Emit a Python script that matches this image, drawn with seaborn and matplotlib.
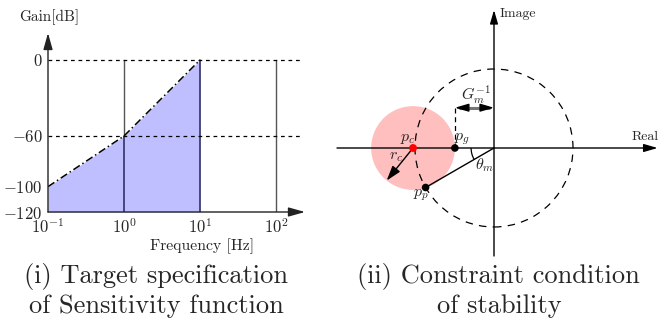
import numpy as np
import matplotlib
matplotlib.use("Agg")
import matplotlib.pyplot as plt
from matplotlib.patches import Circle, Arc
import seaborn as sns

# ---- data: target sensitivity specification ----
freq = [0.1, 1.0, 10.0]          # Hz
gain = [-100, -60, 0]            # dB
grid_freqs = [1.0, 10.0, 100.0]  # vertical reference lines
ref_gains = [0, -60]             # dashed horizontal reference lines
ytick_vals = [0, -60, -100, -120]
xtick_vals = [0.1, 1.0, 10.0, 100.0]
xtick_labels = [r"$10^{-1}$", r"$10^{0}$", r"$10^{1}$", r"$10^{2}$"]

# ---- data: stability constraint in the complex plane ----
gm_inv = 0.495       # distance |p_g| from the origin
r_c = 0.53           # radius of the forbidden circle
theta_m_deg = 30.0   # phase margin angle
rc_dir_deg = 231.0   # direction of the radius arrow

sns.set_theme(style="white")
plt.rcParams["font.family"] = ["cmr10", "DejaVu Serif"]
plt.rcParams["mathtext.fontset"] = "cm"
plt.rcParams["axes.unicode_minus"] = False

W, H = 658, 322
fig = plt.figure(figsize=(W / 100, H / 100), dpi=100)


def frac_box(x0, y0, x1, y1):
    """Pixel box (top-left origin) to figure fraction rect."""
    return [x0 / W, 1 - y1 / H, (x1 - x0) / W, (y1 - y0) / H]


def arrow_props(scale=20, hl=0.5, hw=0.14, lw=1.0, color="black"):
    return dict(arrowstyle=f"-|>,head_length={hl},head_width={hw}",
                mutation_scale=scale, color=color, lw=lw,
                shrinkA=0, shrinkB=0)


# ================= left panel =================
ax1 = fig.add_axes(frac_box(48, 33, 305, 212))
ax1.set_xscale("log")
ax1.set_xlim(0.1, 10 ** ((305 - 48) / 76 - 1))
ax1.set_ylim(-120, -120 + (212 - 33) / 1.267)
for s in ax1.spines.values():
    s.set_visible(False)
ax1.set_facecolor("none")

ax1.fill_between(freq, gain, -120, color="#bfbfff", lw=0, zorder=1)

# vertical reference lines: grey in the open area, dark blue inside the band
log_f = np.log10(freq)
for f in grid_freqs:
    lf = np.log10(f)
    if lf <= log_f[-1]:
        g_edge = float(np.interp(lf, log_f, gain))
        ax1.plot([f, f], [-120, g_edge], color="#26265c", lw=1.1, zorder=2)
        if g_edge < 0:
            ax1.plot([f, f], [g_edge, 0], color="#555555", lw=1.0, zorder=2)
    else:
        ax1.plot([f, f], [-120, 0], color="#555555", lw=1.0, zorder=2)

sns.lineplot(x=freq, y=gain, ax=ax1, color="black", lw=1.1,
             linestyle=(0, (5, 2, 1, 2)), zorder=3)
x_end_dash = 10 ** ((303 - 48) / 76 - 1)
for g in ref_gains:
    ax1.plot([0.1, x_end_dash], [g, g], color="black", lw=0.9,
             linestyle=(0, (3, 3)), zorder=3)

# axes with arrow heads
ax1.annotate("", xy=(ax1.get_xlim()[1], -120), xytext=(0.1, -120),
             arrowprops=arrow_props(lw=1.0, color="#222222"),
             annotation_clip=False, zorder=4)
ax1.annotate("", xy=(0.1, ax1.get_ylim()[1]), xytext=(0.1, -120),
             arrowprops=arrow_props(lw=1.0, color="#222222"),
             annotation_clip=False, zorder=4)

ax1.set_xticks(xtick_vals)
ax1.set_xticklabels(xtick_labels, fontsize=12)
ax1.xaxis.set_minor_locator(matplotlib.ticker.NullLocator())
ax1.set_yticks(ytick_vals)
ax1.set_yticklabels([rf"${v}$" if v >= 0 else rf"$-{abs(v)}$"
                     for v in ytick_vals], fontsize=12)
ax1.tick_params(axis="both", length=0, pad=4)
ax1.set_xlabel("")
ax1.set_ylabel("")
fig.text(202 / W, 1 - 250 / H, "Frequency [Hz]", fontsize=11.3,
         ha="center", va="baseline")
fig.text(19 / W, 1 - 21 / H, "Gain[dB]", fontsize=11, ha="left",
         va="baseline")

# ================= right panel =================
scale = 79.0
ox, oy = 494, 148
ax2 = fig.add_axes(frac_box(330, 0, 658, 262))
ax2.set_xlim((330 - ox) / scale, (658 - ox) / scale)
ax2.set_ylim((oy - 262) / scale, oy / scale)
ax2.axis("off")

p_g = np.array([-gm_inv, 0.0])
p_c = np.array([-gm_inv - r_c, 0.0])
th = np.deg2rad(180 + theta_m_deg)
p_p = np.array([np.cos(th), np.sin(th)])

ax2.add_patch(Circle(tuple(p_c), r_c, color="#ffbfbf", lw=0, zorder=1))
ax2.add_patch(Circle((0, 0), 1.0, fill=False, ec="black", lw=0.9,
                     linestyle=(0, (6, 5)), zorder=2))

small_head = arrow_props(scale=15, hl=0.55, hw=0.16, lw=1.0)

# real / imaginary axes
ax2.annotate("", xy=((658 - ox) / scale - 0.005, 0),
             xytext=((337 - ox) / scale, 0),
             arrowprops=small_head, annotation_clip=False, zorder=3)
ax2.annotate("", xy=(0, (oy - 10) / scale), xytext=(0, (oy - 256) / scale),
             arrowprops=small_head, annotation_clip=False, zorder=3)

# gain margin marker
y_gm = 0.51
ax2.plot([p_g[0], p_g[0]], [0, y_gm], color="black", lw=0.9,
         linestyle=(0, (4, 3)), zorder=3)
ax2.plot([p_g[0] + 0.06, -0.06], [y_gm, y_gm], color="#777777", lw=2.2,
         zorder=3)
ax2.annotate("", xy=(p_g[0], y_gm), xytext=(p_g[0] + 0.1, y_gm),
             arrowprops=small_head, annotation_clip=False)
ax2.annotate("", xy=(0, y_gm), xytext=(-0.1, y_gm),
             arrowprops=small_head, annotation_clip=False)

# phase margin line and angle
ax2.plot([0, p_p[0]], [0, p_p[1]], color="black", lw=1.0, zorder=3)
ax2.add_patch(Arc((0, 0), 0.58, 0.58, theta1=180, theta2=180 + theta_m_deg,
                  color="black", lw=0.9, zorder=3))

# radius arrow of the forbidden circle
rd = np.deg2rad(rc_dir_deg)
ax2.annotate("", xy=(p_c[0] + r_c * np.cos(rd), r_c * np.sin(rd)),
             xytext=tuple(p_c), arrowprops=arrow_props(scale=18, hw=0.16),
             zorder=4)

pts_x = [p_g[0], p_p[0]]
pts_y = [p_g[1], p_p[1]]
sns.scatterplot(x=pts_x, y=pts_y, ax=ax2, color="black", s=30,
                edgecolor="none", zorder=5)
sns.scatterplot(x=[p_c[0]], y=[p_c[1]], ax=ax2, color="red", s=32,
                edgecolor="none", zorder=5)

lab = dict(fontsize=11.5, ha="center", va="center", zorder=6)
ax2.text(-1.09, 0.12, r"$p_c$", **lab)
ax2.text(-0.40, 0.11, r"$p_g$", **lab)
ax2.text(-0.92, -0.60, r"$p_p$", **lab)
ax2.text(-1.24, -0.12, r"$r_c$", **lab)
ax2.text(-0.12, -0.22, r"$\theta_m$", **lab)
ax2.text(-0.23, 0.68, r"$G_m^{-1}$", **lab)
ax2.text(0.07, (oy - 14) / scale, "Image", fontsize=10, ha="left",
         va="center")
ax2.text(1.91, 0.14, "Real", fontsize=10, ha="center", va="center")

# ================= captions =================
cap = dict(fontsize=19, ha="center", va="baseline")
fig.text(156 / W, 1 - 283 / H, "(i) Target specification", **cap)
fig.text(156 / W, 1 - 313 / H, "of Sensitivity function", **cap)
fig.text(498 / W, 1 - 283 / H, "(ii) Constraint condition", **cap)
fig.text(499 / W, 1 - 313 / H, "of stability", **cap)

fig.savefig("out.png", dpi=100)
